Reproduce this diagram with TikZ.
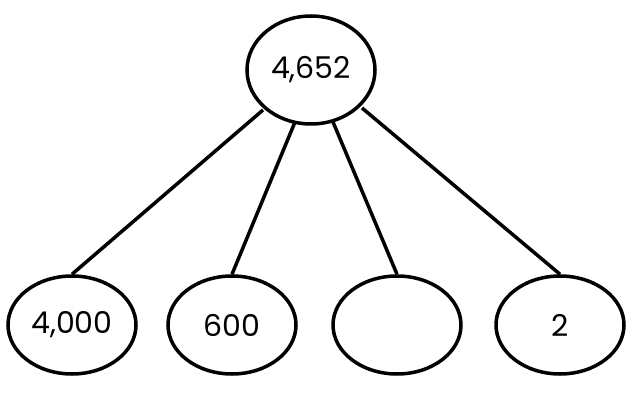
\documentclass[tikz,border=0pt]{standalone}
\usepackage{fontspec}
\setmainfont{Poppins}
\usetikzlibrary{shapes.geometric,calc}
\begin{document}
\begin{tikzpicture}[x=1pt,y=-1pt,
  bub/.style={draw,line width=3.5pt,ellipse,minimum width=128pt,minimum height=98pt,inner sep=0pt,font=\fontsize{30}{34}\selectfont},
  link/.style={line width=3.5pt}]
\useasboundingbox (0,0) rectangle (640,406);
\node[bub,minimum height=108pt] (top) at (311,70) {4,652};
\node[bub] (a) at (72,325) {4,000};
\node[bub] (b) at (232,325) {600};
\node[bub] (c) at (397,325) {};
\node[bub] (d) at (560,325) {2};
\draw[link] ($(top.center)+(-48,40)$) -- (a.north);
\draw[link] ($(top.center)+(-16,52)$) -- (b.north);
\draw[link] ($(top.center)+(22,52)$) -- (c.north);
\draw[link] ($(top.center)+(51,38)$) -- (d.north);
\end{tikzpicture}
\end{document}
